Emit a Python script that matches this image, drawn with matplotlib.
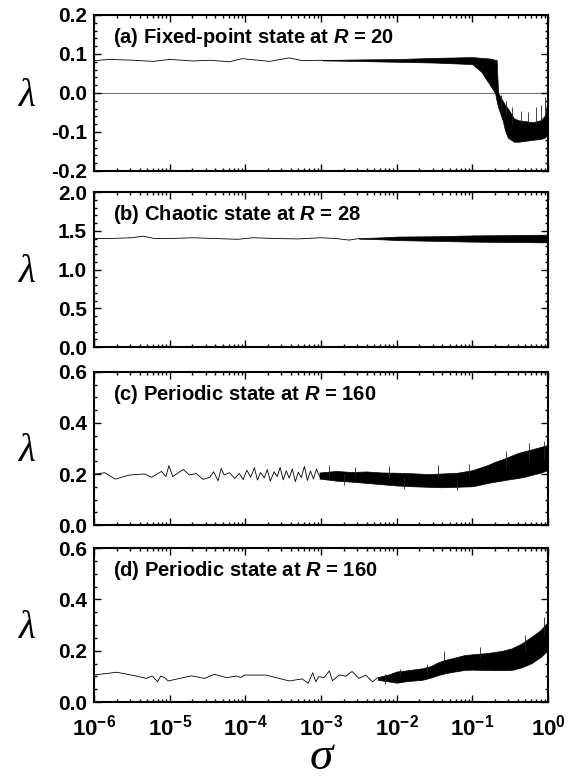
import matplotlib
matplotlib.use("Agg")
import matplotlib.pyplot as plt
import numpy as np
from matplotlib.ticker import FixedLocator, LogLocator, MultipleLocator, FuncFormatter, NullFormatter

plt.rcParams['font.family'] = ['Liberation Sans', 'DejaVu Sans']
plt.rcParams['mathtext.fontset'] = 'custom'
plt.rcParams['mathtext.rm'] = 'Liberation Sans'
plt.rcParams['mathtext.bf'] = 'Liberation Sans:bold'
plt.rcParams['mathtext.it'] = 'Liberation Sans:italic'
plt.rcParams['mathtext.bfit'] = 'Liberation Sans:italic:bold'

# log10(sigma) and lambda for the sparse part of each curve,
# then the envelope of the dense noisy part (lo / hi) and its odd spikes
a_logsig = [-6.0, -5.79, -5.48, -5.22, -5.0, -4.69, -4.47, -4.21, -4.04, -3.68, -3.42, -3.25, -2.98]
a_lam = [0.083, 0.086, 0.084, 0.081, 0.086, 0.082, 0.084, 0.080, 0.088, 0.081, 0.090, 0.083, 0.084]
a_band_logsig = [-2.98, -2.5, -2.0, -1.5, -1.0, -0.88, -0.75, -0.70, -0.68, -0.66, -0.6, -0.57, -0.53,
                 -0.45, -0.39, -0.2, -0.1, -0.05, -0.03, 0.0]
a_band_lo = [0.0835, 0.082, 0.080, 0.078, 0.074, 0.054, 0.015, 0.0, -0.02, -0.036, -0.07, -0.095, -0.115,
             -0.125, -0.125, -0.12, -0.118, -0.115, -0.112, -0.10]
a_band_hi = [0.0845, 0.086, 0.087, 0.090, 0.092, 0.090, 0.088, 0.085, 0.085, 0.0, -0.02, -0.03, -0.04,
             -0.065, -0.07, -0.075, -0.07, -0.06, -0.05, 0.0]
a_spike_logsig = [-0.62, -0.55, -0.47, -0.36, -0.27, -0.16, -0.09, -0.04]
a_spike_lo = [-0.05, -0.06, -0.08, -0.08, -0.08, -0.08, -0.07, -0.06]
a_spike_hi = [-0.005, -0.02, -0.035, -0.045, -0.05, -0.035, -0.03, -0.01]

b_logsig = [-6.0, -5.8, -5.5, -5.35, -5.2, -5.0, -4.7, -4.4, -4.1, -3.9, -3.6, -3.3, -3.0, -2.8, -2.63, -2.5]
b_lam = [1.40, 1.40, 1.41, 1.43, 1.40, 1.40, 1.41, 1.40, 1.39, 1.41, 1.40, 1.395, 1.41, 1.40, 1.38, 1.40]
b_band_logsig = [-2.5, -2.2, -2.0, -1.5, -1.0, -0.5, 0.0]
b_band_lo = [1.398, 1.39, 1.38, 1.37, 1.36, 1.355, 1.35]
b_band_hi = [1.405, 1.415, 1.425, 1.43, 1.44, 1.445, 1.45]
b_spike_logsig = []
b_spike_lo = []
b_spike_hi = []

c_logsig = [-6.0, -5.86, -5.72, -5.53, -5.33, -5.24, -5.11, -5.05, -5.01, -4.96, -4.82, -4.74, -4.65,
            -4.56, -4.47, -4.42, -4.36, -4.32, -4.28, -4.21, -4.14, -4.08, -4.03, -3.98, -3.93, -3.88,
            -3.84, -3.80, -3.75, -3.71, -3.67, -3.62, -3.58, -3.54, -3.50, -3.46, -3.42, -3.38, -3.34,
            -3.30, -3.26, -3.22, -3.18, -3.14, -3.10, -3.06, -3.02]
c_lam = [0.199, 0.205, 0.18, 0.196, 0.2, 0.187, 0.21, 0.19, 0.233, 0.19, 0.218, 0.196, 0.202,
         0.179, 0.187, 0.209, 0.173, 0.222, 0.196, 0.205, 0.183, 0.202, 0.178, 0.215, 0.188, 0.224,
         0.176, 0.206, 0.185, 0.218, 0.172, 0.209, 0.19, 0.226, 0.177, 0.213, 0.184, 0.22, 0.17,
         0.207, 0.186, 0.23, 0.175, 0.212, 0.181, 0.219, 0.19]
c_band_logsig = [-3.02, -2.8, -2.6, -2.4, -2.2, -2.0, -1.8, -1.6, -1.4, -1.2, -1.0, -0.9, -0.8, -0.7,
                 -0.6, -0.5, -0.4, -0.3, -0.2, -0.1, 0.0]
c_band_lo = [0.182, 0.174, 0.170, 0.165, 0.160, 0.155, 0.152, 0.150, 0.148, 0.150, 0.152, 0.158, 0.165,
             0.170, 0.175, 0.180, 0.184, 0.190, 0.198, 0.205, 0.216]
c_band_hi = [0.206, 0.212, 0.208, 0.210, 0.206, 0.205, 0.203, 0.200, 0.202, 0.205, 0.215, 0.225, 0.235,
             0.248, 0.258, 0.270, 0.282, 0.290, 0.298, 0.306, 0.314]
c_spike_logsig = [-2.9, -2.7, -2.55, -2.1, -1.9, -1.45, -1.2, -1.05, -0.55, -0.25, -0.05]
c_spike_lo = [0.19, 0.155, 0.19, 0.185, 0.14, 0.18, 0.138, 0.19, 0.22, 0.25, 0.26]
c_spike_hi = [0.235, 0.2, 0.228, 0.232, 0.19, 0.235, 0.18, 0.24, 0.29, 0.32, 0.33]

d_logsig = [-6.0, -5.70, -5.44, -5.31, -5.23, -5.16, -5.12, -5.07, -5.02, -4.71, -4.54, -4.41, -4.25,
            -4.12, -4.06, -4.01, -3.73, -3.42, -3.25, -3.17, -3.11, -3.07, -3.03, -2.96, -2.89, -2.85,
            -2.76, -2.67, -2.59, -2.50, -2.41, -2.32, -2.25]
d_lam = [0.105, 0.116, 0.101, 0.092, 0.101, 0.079, 0.101, 0.096, 0.082, 0.102, 0.092, 0.108, 0.095,
         0.101, 0.096, 0.105, 0.105, 0.082, 0.09, 0.073, 0.114, 0.079, 0.099, 0.095, 0.121, 0.083,
         0.105, 0.101, 0.119, 0.092, 0.105, 0.079, 0.095]
d_band_logsig = [-2.25, -2.1, -2.0, -1.9, -1.8, -1.67, -1.55, -1.45, -1.36, -1.25, -1.1, -1.0, -0.83,
                 -0.7, -0.6, -0.48, -0.35, -0.22, -0.1, 0.0]
d_band_lo = [0.086, 0.08, 0.075, 0.08, 0.083, 0.086, 0.095, 0.105, 0.112, 0.118, 0.125, 0.126, 0.125,
             0.124, 0.124, 0.125, 0.135, 0.151, 0.175, 0.203]
d_band_hi = [0.097, 0.108, 0.119, 0.122, 0.126, 0.131, 0.14, 0.155, 0.164, 0.172, 0.183, 0.186, 0.19,
             0.195, 0.2, 0.209, 0.228, 0.254, 0.28, 0.313]
d_spike_logsig = [-2.15, -1.95, -1.6, -1.38, -0.9, -0.3, -0.05]
d_spike_lo = [0.07, 0.1, 0.12, 0.15, 0.17, 0.2, 0.26]
d_spike_hi = [0.11, 0.13, 0.15, 0.2, 0.215, 0.26, 0.33]

titles = ['(a) Fixed-point state at $\\mathbfit{R}$ = 20',
          '(b) Chaotic state at $\\mathbfit{R}$ = 28',
          '(c) Periodic state at $\\mathbfit{R}$ = 160',
          '(d) Periodic state at $\\mathbfit{R}$ = 160']
ylims = [(-0.2, 0.2), (0.0, 2.0), (0.0, 0.6), (0.0, 0.6)]
ymajor = [0.1, 0.5, 0.2, 0.2]
yminor = [0.02, 0.1, 0.05, 0.05]
xtick_exp = [-6, -5, -4, -3, -2, -1, 0]

curves = [(a_logsig, a_lam, a_band_logsig, a_band_lo, a_band_hi, a_spike_logsig, a_spike_lo, a_spike_hi),
          (b_logsig, b_lam, b_band_logsig, b_band_lo, b_band_hi, b_spike_logsig, b_spike_lo, b_spike_hi),
          (c_logsig, c_lam, c_band_logsig, c_band_lo, c_band_hi, c_spike_logsig, c_spike_lo, c_spike_hi),
          (d_logsig, d_lam, d_band_logsig, d_band_lo, d_band_hi, d_spike_logsig, d_spike_lo, d_spike_hi)]

fig = plt.figure(figsize=(5.74, 7.8), dpi=100)
boxes = [(0.1638, 0.7808, 0.791, 0.200),
         (0.1638, 0.5551, 0.791, 0.1987),
         (0.1638, 0.3269, 0.791, 0.1962),
         (0.1638, 0.1000, 0.791, 0.1974)]

for i in range(4):
    ax = fig.add_axes(boxes[i])
    ls, lam, bls, blo, bhi, sls, slo, shi = curves[i]
    ax.plot(10.0 ** np.array(ls), lam, color='k', lw=0.6)
    ax.fill_between(10.0 ** np.array(bls), blo, bhi, color='k', lw=0.5, edgecolor='k')
    if len(sls):
        ax.vlines(10.0 ** np.array(sls), slo, shi, color='0.15', lw=0.6)
    if i == 0:
        ax.axhline(0.0, color='0.45', lw=0.8, zorder=0)

    ax.set_xscale('log')
    ax.set_xlim(1e-6, 1.0)
    ax.set_ylim(*ylims[i])
    ax.xaxis.set_major_locator(FixedLocator([10.0 ** e for e in xtick_exp]))
    ax.xaxis.set_minor_locator(LogLocator(base=10, subs=np.arange(2, 10), numticks=20))
    ax.xaxis.set_minor_formatter(NullFormatter())
    ax.yaxis.set_major_locator(MultipleLocator(ymajor[i]))
    ax.yaxis.set_minor_locator(MultipleLocator(yminor[i]))
    ax.yaxis.set_major_formatter(FuncFormatter(lambda v, p: '%.1f' % v))

    ax.tick_params(which='both', direction='in', top=True, right=True, width=1.0)
    ax.tick_params(which='major', length=5)
    ax.tick_params(which='minor', length=2.5)
    ax.tick_params(axis='y', labelsize=15, pad=5)
    for lab in ax.get_yticklabels():
        lab.set_fontweight('bold')
    for sp in ax.spines.values():
        sp.set_linewidth(1.5)

    if i == 3:
        ax.set_xticklabels(['$\\mathbf{10^{%d}}$' % e for e in xtick_exp])
        ax.tick_params(axis='x', labelsize=16, pad=9)
    else:
        ax.set_xticklabels([])

    ax.text(0.042, 0.82, titles[i], transform=ax.transAxes, fontsize=14.5,
            fontweight='bold', ha='left', va='baseline')

    yc = boxes[i][1] + boxes[i][3] / 2
    fig.text(0.047, yc - 0.004, '\u03bb', fontsize=28, family='Liberation Serif',
             style='italic', ha='center', va='center')

fig.text(0.559, 0.014, '\u03c3', fontsize=34, family='Liberation Serif',
         style='italic', ha='center', va='baseline')

fig.savefig('out.png', dpi=100)
